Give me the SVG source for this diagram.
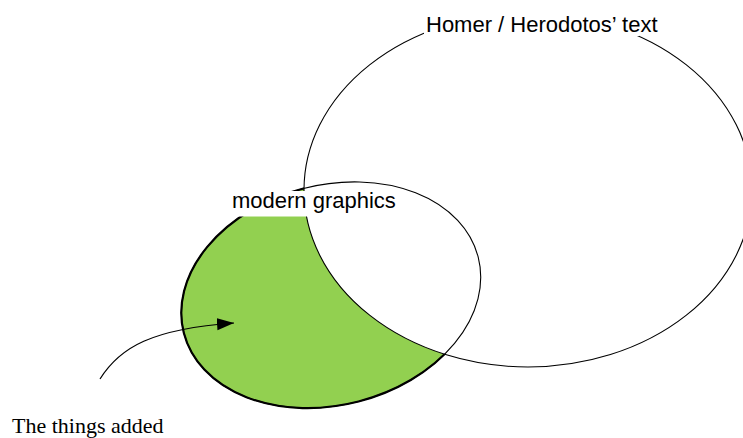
<svg xmlns="http://www.w3.org/2000/svg" width="743" height="438" viewBox="0 0 743 438">
  <style>
    .outline { fill: none; stroke: #000; stroke-width: 1.1; }
    .label { font-family: "Liberation Sans", Arial, sans-serif; font-size: 22px; fill: #000; }
    .note { font-family: "Liberation Serif", "Times New Roman", serif; font-size: 22px; fill: #000; }
    .bg { fill: #fff; stroke: none; }
    .conn { fill: none; stroke: #000; stroke-width: 1.2; }
  </style>
  <defs>
    <mask id="outsideHomer" maskUnits="userSpaceOnUse" x="0" y="0" width="743" height="438">
      <rect x="0" y="0" width="743" height="438" fill="#fff"/>
      <ellipse cx="528" cy="190" rx="224" ry="177" fill="#000"/>
    </mask>
    <marker id="arrow" markerUnits="userSpaceOnUse" markerWidth="18" markerHeight="13" refX="17" refY="6" orient="auto">
      <path d="M0,0 L17,6 L0,12 z" fill="#000"/>
    </marker>
  </defs>
  <rect x="0" y="0" width="743" height="438" fill="#fff"/>

  <g id="modern-only-region" mask="url(#outsideHomer)">
    <ellipse cx="331" cy="295" rx="152" ry="110" transform="rotate(-14.5 331 295)" fill="#92d050" stroke="#000" stroke-width="2.2"/>
  </g>

  <g id="homer">
    <ellipse class="outline" cx="528" cy="190" rx="224" ry="177"/>
    <rect class="bg" x="424" y="9" width="215" height="27"/>
    <text class="label" x="426" y="32">Homer / Herodotos’ text</text>
  </g>

  <g id="modern">
    <ellipse class="outline" cx="331" cy="295" rx="152" ry="110" transform="rotate(-14.5 331 295)"/>
    <rect class="bg" x="229" y="191" width="170" height="25.5"/>
    <text class="label" x="232" y="208">modern graphics</text>
  </g>

  <g id="added">
    <text class="note" x="12" y="432.5">The things added</text>
  </g>

  <g id="connectors">
    <path class="conn" d="M100,379 C120,347 152,329 234,323" marker-end="url(#arrow)"/>
  </g>
</svg>
